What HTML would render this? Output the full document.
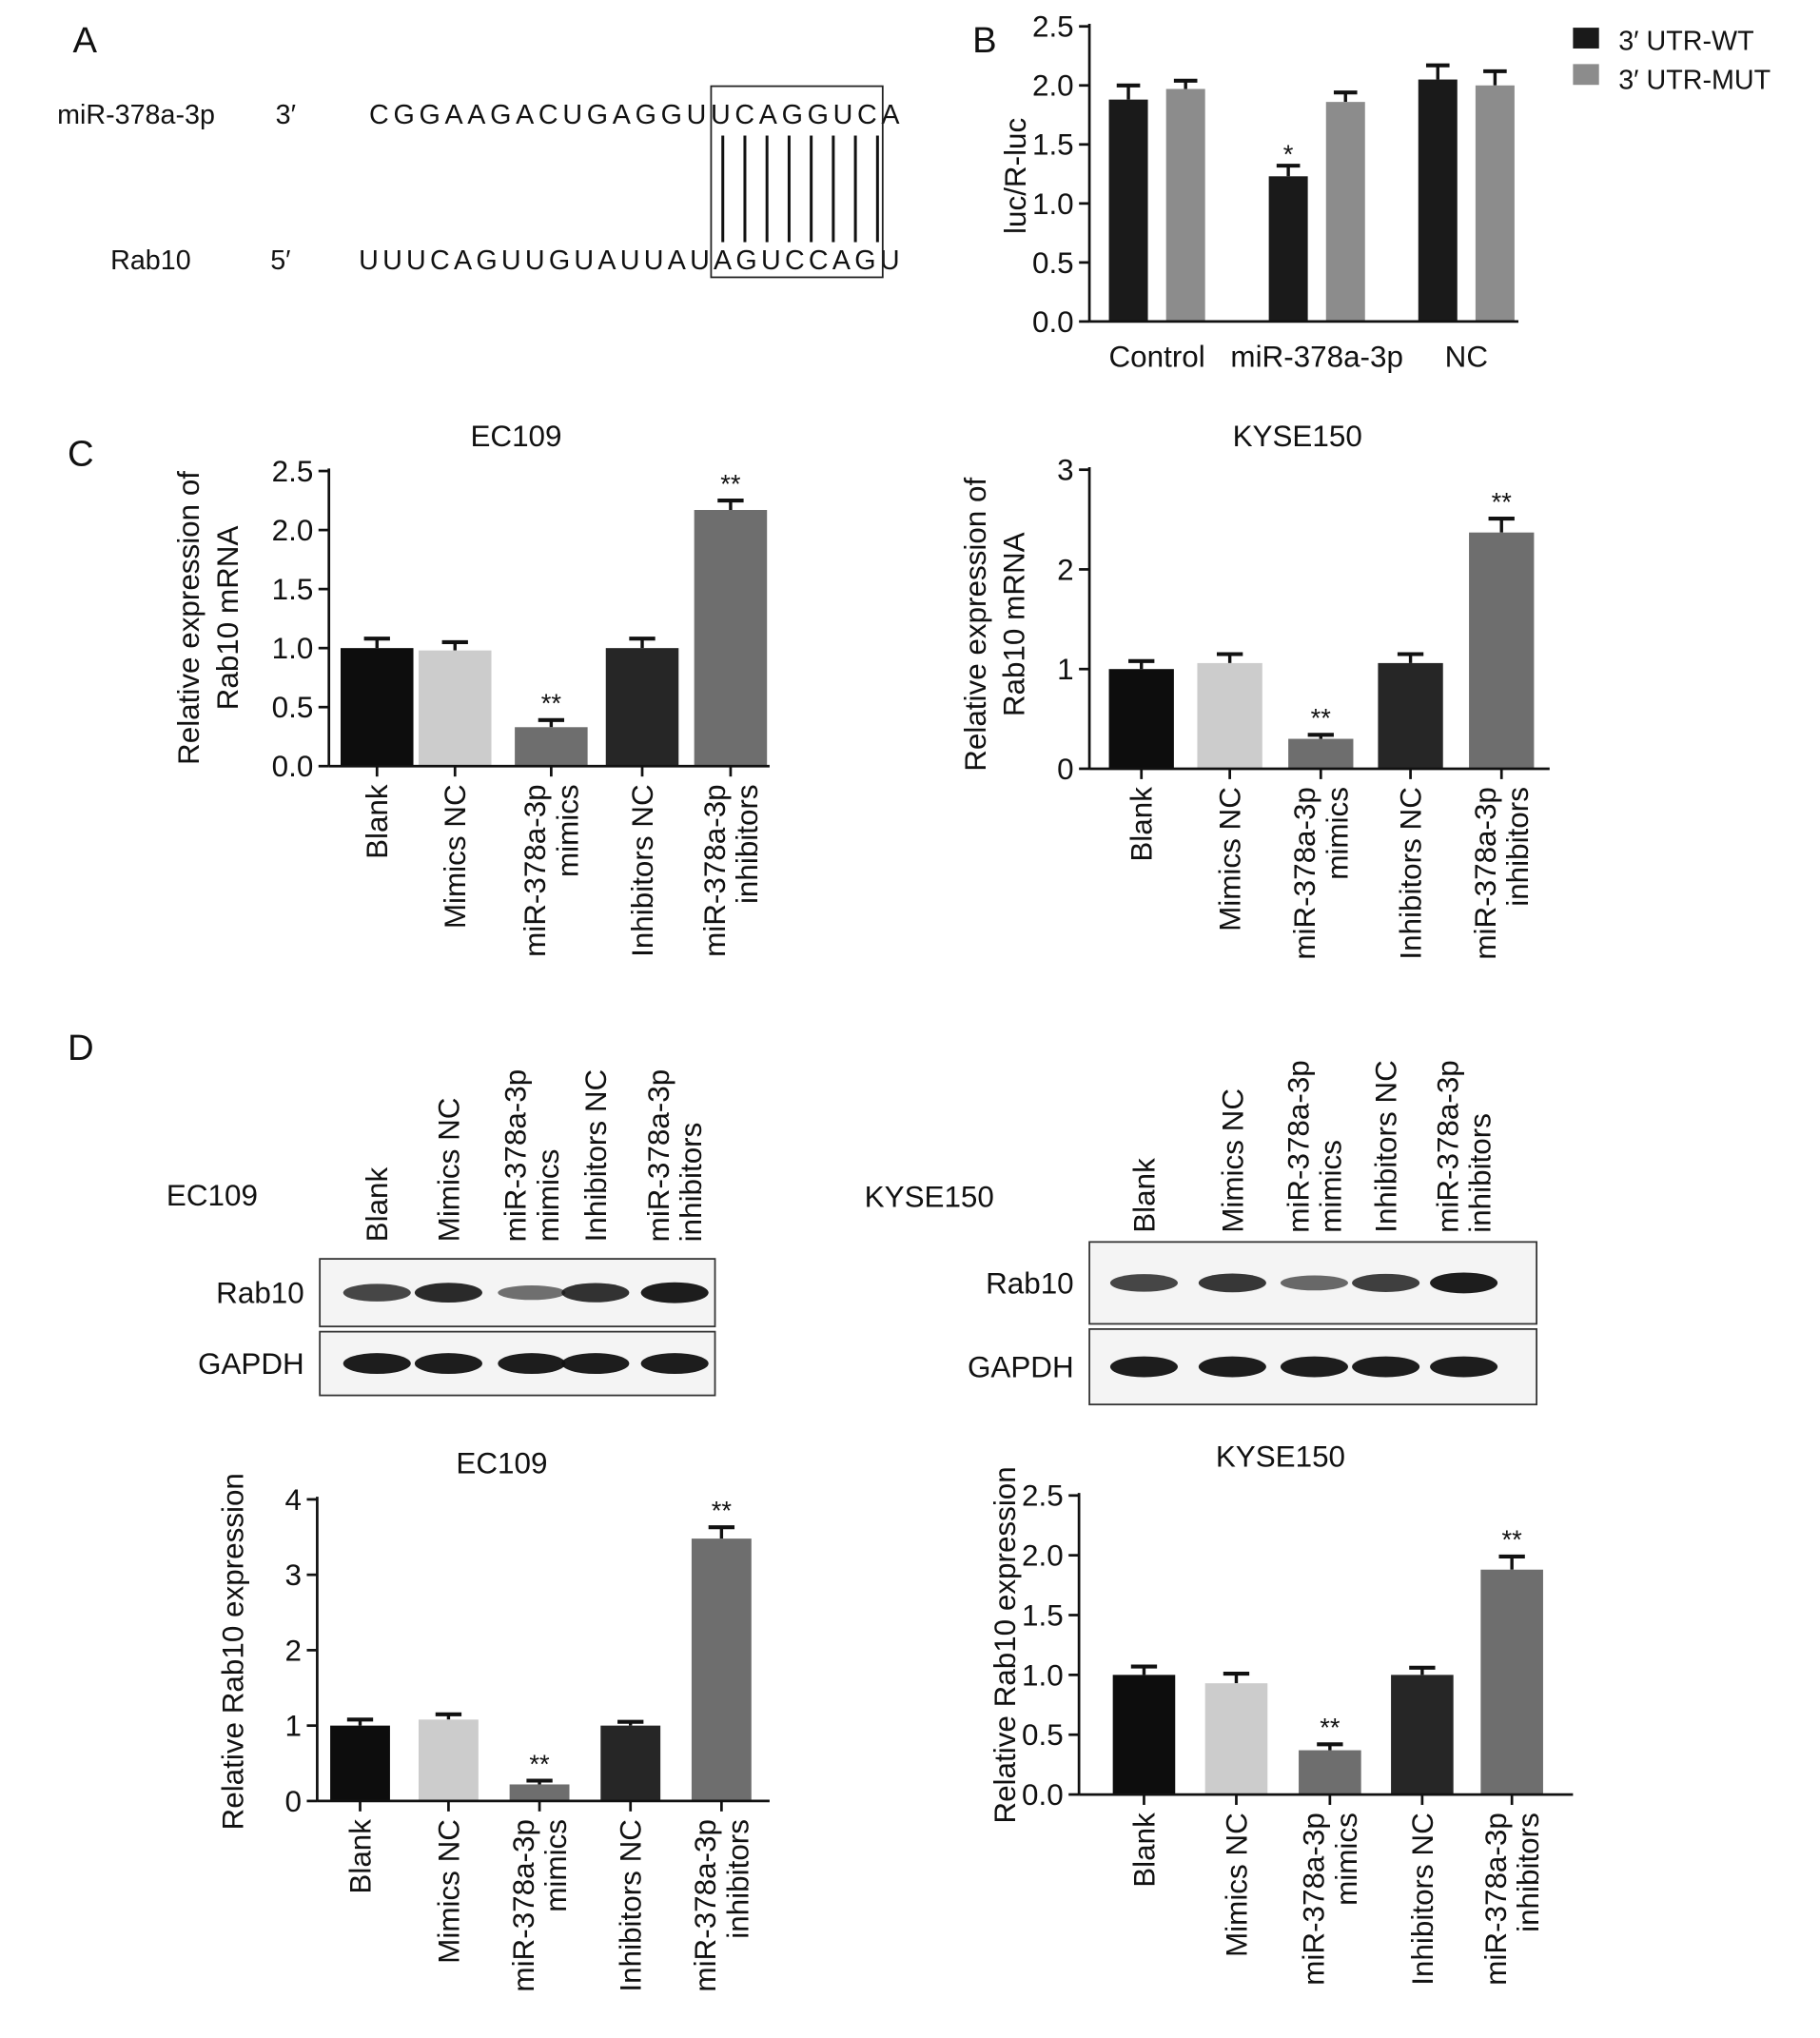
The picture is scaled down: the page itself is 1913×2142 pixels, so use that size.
<!DOCTYPE html>
<html><head><meta charset="utf-8"><style>
html,body{margin:0;padding:0;background:#fff}
svg{display:block}
text{font-family:"Liberation Sans",Arial,sans-serif;fill:#111}
</style></head><body>
<svg id="fig" xmlns="http://www.w3.org/2000/svg" width="1913" height="2142" viewBox="0 0 1400 1567">
<rect x="0" y="0" width="1400" height="1567" fill="#fff"/>
<g>
<text x="56" y="40" font-size="28">A</text>
<text x="44" y="95" font-size="21">miR-378a-3p</text>
<text x="212" y="95" font-size="21">3′</text>
<text x="284" y="95" font-size="21" textLength="408">CGGAAGACUGAGGUUCAGGUCA</text>
<text x="85" y="207" font-size="21">Rab10</text>
<text x="208" y="207" font-size="21">5′</text>
<text x="276" y="207" font-size="21" textLength="416">UUUCAGUUGUAUUAUAGUCCAGU</text>
<rect x="547" y="66" width="132" height="147" fill="none" stroke="#222" stroke-width="1.3"/>
<g id="pairs" stroke="#111" stroke-width="2.2"></g>
</g>
<text x="748" y="40" font-size="28">B</text>
<g id="chartB"></g>
<g>
<rect x="1210" y="21" width="20" height="16" fill="#1a1a1a"/>
<text x="1245" y="38" font-size="21">3′ UTR-WT</text>
<rect x="1210" y="49" width="20" height="16" fill="#8c8c8c"/>
<text x="1245" y="68" font-size="21">3′ UTR-MUT</text>
</g>
<text x="52" y="358" font-size="28">C</text>
<g id="chartC1"></g>
<g id="chartC2"></g>
<text x="52" y="815" font-size="28">D</text>
<g id="blot1"></g>
<g id="blot2"></g>
<g id="chartD1"></g>
<g id="chartD2"></g>
</svg>
<script>
const groupsB = ["Control","miR-378a-3p","NC"];
const wtValues = [1.88,1.23,2.05];
const wtErrors = [0.12,0.09,0.12];
const mutValues = [1.97,1.86,2.0];
const mutErrors = [0.07,0.08,0.12];
const ticksB = ["0.0","0.5","1.0","1.5","2.0","2.5"];

const categories = [["Blank"],["Mimics NC"],["miR-378a-3p","mimics"],["Inhibitors NC"],["miR-378a-3p","inhibitors"]];
const barColors = ["#0d0d0d","#cccccc","#6e6e6e","#262626","#6e6e6e"];
const sigMarks = ["","","**","","**"];

const c1Values = [1.0,0.98,0.33,1.0,2.17];
const c1Errors = [0.08,0.07,0.06,0.08,0.08];
const c1Ticks = ["0.0","0.5","1.0","1.5","2.0","2.5"];
const c2Values = [1.0,1.06,0.30,1.06,2.37];
const c2Errors = [0.08,0.09,0.04,0.09,0.14];
const c2Ticks = ["0","1","2","3"];
const d1Values = [1.0,1.08,0.22,1.0,3.48];
const d1Errors = [0.08,0.07,0.05,0.05,0.15];
const d1Ticks = ["0","1","2","3","4"];
const d2Values = [1.0,0.93,0.37,1.0,1.88];
const d2Errors = [0.07,0.08,0.05,0.06,0.11];
const d2Ticks = ["0.0","0.5","1.0","1.5","2.0","2.5"];

const blot1Rab = [0.7,0.9,0.4,0.85,1.0];
const blot2Rab = [0.7,0.8,0.45,0.75,1.0];

const NS="http://www.w3.org/2000/svg";
function mk(tag, attrs, parent){const e=document.createElementNS(NS,tag);for(const k in attrs)e.setAttribute(k,attrs[k]);parent.appendChild(e);return e;}

const pg=document.getElementById('pairs');
for(let i=0;i<8;i++){const l=mk('line',{x1:556+i*17,x2:556+i*17,y1:104,y2:186},pg);

}

function axisY(g,x0,y0,y1,ticks,max,fs){
  const ax=mk('line',{x1:x0,x2:x0,y1:y0,y2:y1-2,stroke:'#111','stroke-width':2},g);
  
  
  ticks.forEach(t=>{const yy=y0-(parseFloat(t)/max)*(y0-y1);
    mk('line',{x1:x0-8,x2:x0,y1:yy,y2:yy,stroke:'#111','stroke-width':2},g);
    const tx=mk('text',{x:x0-12,y:yy+8,'font-size':fs,'text-anchor':'end'},g);tx.textContent=t;
    
    });
}
function errBar(g,cx,yv,ye,w){
  mk('line',{x1:cx,x2:cx,y1:yv,y2:ye,stroke:'#111','stroke-width':2.5},g);
  mk('line',{x1:cx-w,x2:cx+w,y1:ye,y2:ye,stroke:'#111','stroke-width':3},g);
}

(function(){
  const g=document.getElementById('chartB');const x0=838,y0=247,y1=20,max=2.5,xe=1168;
  const sy=v=>y0-v/max*(y0-y1);
  const centers=[890,1013,1128], bw=30;
  groupsB.forEach((c,i)=>{
    [[wtValues,wtErrors,'#1a1a1a',-22,'bar-wt'],[mutValues,mutErrors,'#8c8c8c',22,'bar-mut']].forEach(s=>{
      const v=s[0][i],e=s[1][i],cx=centers[i]+s[3];
      errBar(g,cx,sy(v),sy(v+e),9);
      const r=mk('rect',{x:cx-bw/2,y:sy(v),width:bw,height:y0-sy(v),fill:s[2]},g);
      
      
    });
    const t=mk('text',{x:centers[i],y:282,'font-size':23,'text-anchor':'middle'},g);t.textContent=c;
    
    
  });
  const st=mk('text',{x:centers[1]-22,y:sy(wtValues[1]+wtErrors[1])-2,'font-size':20,'text-anchor':'middle'},g);st.textContent='*';
  axisY(g,x0,y0,y1,ticksB,max,23);
  mk('line',{x1:x0,x2:xe,y1:y0,y2:y0,stroke:'#111','stroke-width':2},g);
  const yl=mk('text',{x:0,y:0,'font-size':23,'text-anchor':'middle',transform:'translate(789,135) rotate(-90)'},g);yl.textContent='luc/R-luc';
  
  
})();

function barChart(id,o){
  const g=document.getElementById(id);
  const sy=v=>o.y0-v/o.max*(o.y0-o.y1);
  const tt=mk('text',{x:o.tx,y:o.ty,'font-size':23,'text-anchor':'middle'},g);tt.textContent=o.title;
  
  
  o.values.forEach((v,i)=>{
    const cx=o.centers[i];
    errBar(g,cx,sy(v),sy(v+o.errors[i]),10);
    const r=mk('rect',{x:cx-o.bw/2,y:sy(v),width:o.bw,height:o.y0-sy(v),fill:barColors[i]},g);
    
    
    if(sigMarks[i]){const s=mk('text',{x:cx,y:sy(v+o.errors[i])-6,'font-size':20,'text-anchor':'middle'},g);s.textContent=sigMarks[i];}
    mk('line',{x1:cx,x2:cx,y1:o.y0,y2:o.y0+8,stroke:'#111','stroke-width':2},g);
    const lines=categories[i];
    lines.forEach((ln,j)=>{
      const off=(j-(lines.length-1)/2)*25;
      const t=mk('text',{x:0,y:0,'font-size':23,'text-anchor':'end',transform:`translate(${cx+off+8},${o.y0+14}) rotate(-90)`},g);
      t.textContent=ln;
      
      
    });
  });
  axisY(g,o.x0,o.y0,o.y1,o.ticks,o.max,23);
  mk('line',{x1:o.x0,x2:o.xe,y1:o.y0,y2:o.y0,stroke:'#111','stroke-width':2},g);
  o.ylabel.forEach((ln,j)=>{
    const t=mk('text',{x:0,y:0,'font-size':23,'text-anchor':'middle',transform:`translate(${o.ylx+j*30},${o.yly}) rotate(-90)`},g);t.textContent=ln;
    
    
  });
}
barChart('chartC1',{title:'EC109',tx:397,ty:343,x0:253,xe:592,y0:589,y1:362,max:2.5,ticks:c1Ticks,values:c1Values,errors:c1Errors,centers:[290,350,424,494,562],bw:56,ylabel:['Relative expression of','Rab10 mRNA'],ylx:153,yly:475});
barChart('chartC2',{title:'KYSE150',tx:998,ty:343,x0:838,xe:1192,y0:591,y1:361,max:3,ticks:c2Ticks,values:c2Values,errors:c2Errors,centers:[878,946,1016,1085,1155],bw:50,ylabel:['Relative expression of','Rab10 mRNA'],ylx:758,yly:480});
barChart('chartD1',{title:'EC109',tx:386,ty:1133,x0:244,xe:592,y0:1385,y1:1153,max:4,ticks:d1Ticks,values:d1Values,errors:d1Errors,centers:[277,345,415,485,555],bw:46,ylabel:['Relative Rab10 expression'],ylx:187,yly:1270});
barChart('chartD2',{title:'KYSE150',tx:985,ty:1128,x0:830,xe:1210,y0:1380,y1:1150,max:2.5,ticks:d2Ticks,values:d2Values,errors:d2Errors,centers:[880,951,1023,1094,1163],bw:48,ylabel:['Relative Rab10 expression'],ylx:781,yly:1265});

function blot(id,o){
  const g=document.getElementById(id);
  const cl=mk('text',{x:o.cellx,y:o.celly,'font-size':23},g);cl.textContent=o.cell;
  
  
  o.centers.forEach((cx,i)=>{
    const lines=categories[i];
    lines.forEach((ln,j)=>{
      const off=(j-(lines.length-1)/2)*25;
      const t=mk('text',{x:0,y:0,'font-size':23,'transform':`translate(${cx+off+8},${o.labelBottom}) rotate(-90)`},g);
      t.textContent=ln;
      
      
    });
  });
  [['Rab10',o.r],['GAPDH',o.gp]].forEach((row,k)=>{
    const b=row[1];
    const box=mk('rect',{x:o.bx,y:b[0],width:o.bw,height:b[1]-b[0],fill:'#f4f4f4',stroke:'#333','stroke-width':1.3},g);
    
    
    const lb=mk('text',{x:o.bx-12,y:(b[0]+b[1])/2+8,'font-size':23,'text-anchor':'end'},g);lb.textContent=row[0];
    
    
    o.centers.forEach((cx,i)=>{
      const inten=k===0?o.intens[i]:1;
      const e=mk('ellipse',{cx:cx,cy:(b[0]+b[1])/2,rx:26,ry:k===0?4+4*inten:8,fill:'#111','fill-opacity':0.35+0.6*inten},g);
      
      
    });
  });
}
blot('blot1',{cell:'EC109',cellx:128,celly:927,centers:[290,345,409,458,519],labelBottom:955,bx:246,bw:304,r:[968,1020],gp:[1024,1073],intens:blot1Rab});
blot('blot2',{cell:'KYSE150',cellx:665,celly:928,centers:[880,948,1011,1066,1126],labelBottom:948,bx:838,bw:344,r:[955,1018],gp:[1022,1080],intens:blot2Rab});
</script>
</body></html>
